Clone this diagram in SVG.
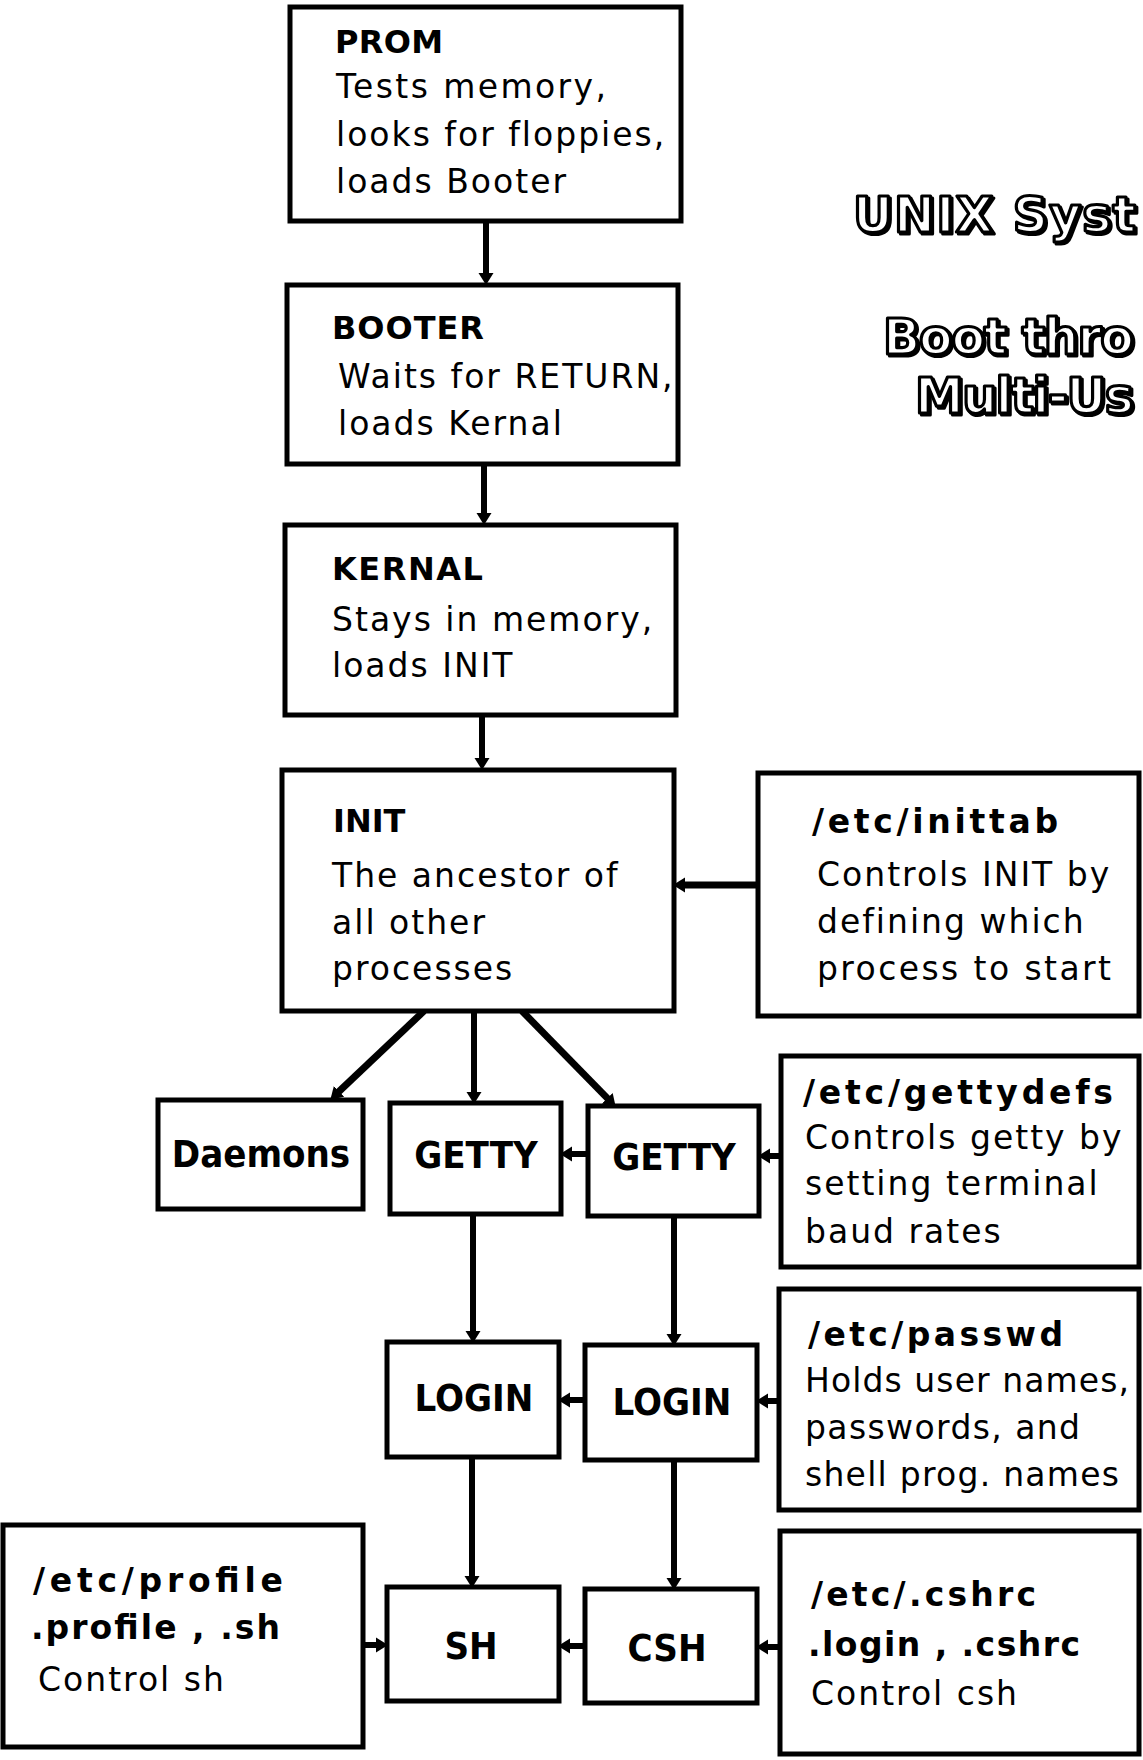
<svg xmlns="http://www.w3.org/2000/svg" width="1143" height="1760" viewBox="0 0 1143 1760">
<defs>
<marker id="ah" markerUnits="userSpaceOnUse" markerWidth="14" markerHeight="18" refX="1" refY="9" orient="auto">
<path d="M0,1.5 L12,9 L0,16.5 Z" fill="#000"/>
</marker>
<style>
.box{fill:#fff;stroke:#000;stroke-width:5}
.hd{font-family:"DejaVu Sans",sans-serif;font-weight:bold;font-size:32px;fill:#000}
.bd{font-family:"DejaVu Sans",sans-serif;font-size:33px;letter-spacing:2px;fill:#000}
.fh{font-family:"DejaVu Sans",sans-serif;font-weight:bold;font-size:33px;fill:#000}
.lb{font-family:"DejaVu Sans Condensed","DejaVu Sans",sans-serif;font-stretch:condensed;font-weight:bold;font-size:38px;text-anchor:middle;fill:#000}
.ttl{font-family:"DejaVu Sans",sans-serif;font-weight:bold;font-size:49px;fill:#fff;stroke:#000;stroke-width:3.2;stroke-linejoin:round}
.sh{font-family:"DejaVu Sans",sans-serif;font-weight:bold;font-size:49px;fill:#000;stroke:#000;stroke-width:3.2;stroke-linejoin:round}
.cn{stroke:#000;stroke-width:6;fill:none}
.dg{stroke:#000;stroke-width:7;fill:none}
</style>
</defs>
<rect width="1143" height="1760" fill="#fff"/>

<g id="title">
<text class="sh" x="855" y="234" textLength="283" lengthAdjust="spacing">UNIX Syst</text>
<text class="ttl" x="853" y="232" textLength="283" lengthAdjust="spacing">UNIX Syst</text>
<text class="sh" x="885" y="356" textLength="251" lengthAdjust="spacing">Boot thro</text>
<text class="ttl" x="883" y="354" textLength="251" lengthAdjust="spacing">Boot thro</text>
<text class="sh" x="917" y="415" textLength="219" lengthAdjust="spacing">Multi-Us</text>
<text class="ttl" x="915" y="413" textLength="219" lengthAdjust="spacing">Multi-Us</text>
</g>

<g id="connectors">
<line class="cn" x1="486" y1="221" x2="486" y2="274" marker-end="url(#ah)"/>
<line class="cn" x1="484" y1="464" x2="484" y2="514" marker-end="url(#ah)"/>
<line class="cn" x1="482" y1="715" x2="482" y2="759" marker-end="url(#ah)"/>
<line class="dg" x1="758" y1="885" x2="684" y2="885" marker-end="url(#ah)"/>
<line class="dg" x1="424" y1="1011" x2="338.3" y2="1092.1" marker-end="url(#ah)"/>
<line class="cn" x1="474" y1="1011" x2="474" y2="1093" marker-end="url(#ah)"/>
<line class="dg" x1="522" y1="1011" x2="608" y2="1098.9" marker-end="url(#ah)"/>
<line class="cn" x1="588" y1="1154" x2="571" y2="1154" marker-end="url(#ah)"/>
<line class="cn" x1="781" y1="1156" x2="769" y2="1156" marker-end="url(#ah)"/>
<line class="cn" x1="473" y1="1214" x2="473" y2="1332" marker-end="url(#ah)"/>
<line class="cn" x1="674" y1="1216" x2="674" y2="1335" marker-end="url(#ah)"/>
<line class="cn" x1="585" y1="1400" x2="569" y2="1400" marker-end="url(#ah)"/>
<line class="cn" x1="779" y1="1401" x2="767" y2="1401" marker-end="url(#ah)"/>
<line class="cn" x1="472" y1="1457" x2="472" y2="1577" marker-end="url(#ah)"/>
<line class="cn" x1="674" y1="1460" x2="674" y2="1579" marker-end="url(#ah)"/>
<line class="cn" x1="585" y1="1646" x2="569" y2="1646" marker-end="url(#ah)"/>
<line class="cn" x1="780" y1="1647" x2="767" y2="1647" marker-end="url(#ah)"/>
<line class="cn" x1="363" y1="1645" x2="377" y2="1645" marker-end="url(#ah)"/>
</g>

<g id="prom">
<rect class="box" x="290" y="7" width="391" height="214"/>
<text class="hd" x="335" y="53" textLength="108" lengthAdjust="spacing">PROM</text>
<text class="bd" x="336" y="98" textLength="272" lengthAdjust="spacing">Tests memory,</text>
<text class="bd" x="336" y="146">looks for floppies,</text>
<text class="bd" x="336" y="193">loads Booter</text>
</g>

<g id="booter">
<rect class="box" x="287" y="285" width="391" height="179"/>
<text class="hd" x="332" y="339" textLength="152" lengthAdjust="spacing">BOOTER</text>
<text class="bd" x="338" y="388">Waits for RETURN,</text>
<text class="bd" x="338" y="435">loads Kernal</text>
</g>

<g id="kernal">
<rect class="box" x="285" y="525" width="391" height="190"/>
<text class="hd" x="332" y="580" textLength="151" lengthAdjust="spacing">KERNAL</text>
<text class="bd" x="332" y="631">Stays in memory,</text>
<text class="bd" x="332" y="677">loads INIT</text>
</g>

<g id="init">
<rect class="box" x="282" y="770" width="392" height="241"/>
<text class="hd" x="333" y="832">INIT</text>
<text class="bd" x="332" y="887">The ancestor of</text>
<text class="bd" x="332" y="934">all other</text>
<text class="bd" x="332" y="980">processes</text>
</g>

<g id="inittab">
<rect class="box" x="758" y="773" width="381" height="243"/>
<text class="fh" x="812" y="833" textLength="246" lengthAdjust="spacing">/etc/inittab</text>
<text class="bd" x="817" y="886">Controls INIT by</text>
<text class="bd" x="817" y="933">defining which</text>
<text class="bd" x="817" y="980" textLength="296" lengthAdjust="spacing">process to start</text>
</g>

<g id="daemons">
<rect class="box" x="158" y="1100" width="205" height="109"/>
<text class="lb" x="261" y="1167">Daemons</text>
</g>

<g id="getty1">
<rect class="box" x="390" y="1103" width="171" height="111"/>
<text class="lb" x="476" y="1168">GETTY</text>
</g>

<g id="getty2">
<rect class="box" x="588" y="1106" width="171" height="110"/>
<text class="lb" x="674" y="1170">GETTY</text>
</g>

<g id="gettydefs">
<rect class="box" x="781" y="1056" width="358" height="211"/>
<text class="fh" x="803" y="1104" textLength="310" lengthAdjust="spacing">/etc/gettydefs</text>
<text class="bd" x="805" y="1149">Controls getty by</text>
<text class="bd" x="805" y="1195">setting terminal</text>
<text class="bd" x="805" y="1243">baud rates</text>
</g>

<g id="login1">
<rect class="box" x="387" y="1342" width="172" height="115"/>
<text class="lb" x="474" y="1411">LOGIN</text>
</g>

<g id="login2">
<rect class="box" x="585" y="1345" width="172" height="115"/>
<text class="lb" x="672" y="1415">LOGIN</text>
</g>

<g id="passwd">
<rect class="box" x="779" y="1289" width="360" height="221"/>
<text class="fh" x="808" y="1346" textLength="255" lengthAdjust="spacing">/etc/passwd</text>
<text class="bd" x="805" y="1392" textLength="326" lengthAdjust="spacing">Holds user names,</text>
<text class="bd" x="805" y="1439" textLength="277" lengthAdjust="spacing">passwords, and</text>
<text class="bd" x="805" y="1486" textLength="316" lengthAdjust="spacing">shell prog. names</text>
</g>

<g id="sh">
<rect class="box" x="387" y="1587" width="172" height="114"/>
<text class="lb" x="471" y="1659">SH</text>
</g>

<g id="csh">
<rect class="box" x="585" y="1589" width="172" height="114"/>
<text class="lb" x="667" y="1661">CSH</text>
</g>

<g id="profile">
<rect class="box" x="3" y="1525" width="360" height="222"/>
<text class="fh" x="33" y="1592" textLength="250" lengthAdjust="spacing">/etc/profile</text>
<text class="fh" x="31" y="1639" textLength="249" lengthAdjust="spacing">.profile , .sh</text>
<text class="bd" x="38" y="1691">Control sh</text>
</g>

<g id="cshrc">
<rect class="box" x="780" y="1531" width="359" height="223"/>
<text class="fh" x="811" y="1606" textLength="225" lengthAdjust="spacing">/etc/.cshrc</text>
<text class="fh" x="808" y="1656" textLength="272" lengthAdjust="spacing">.login , .cshrc</text>
<text class="bd" x="811" y="1705">Control csh</text>
</g>
</svg>
